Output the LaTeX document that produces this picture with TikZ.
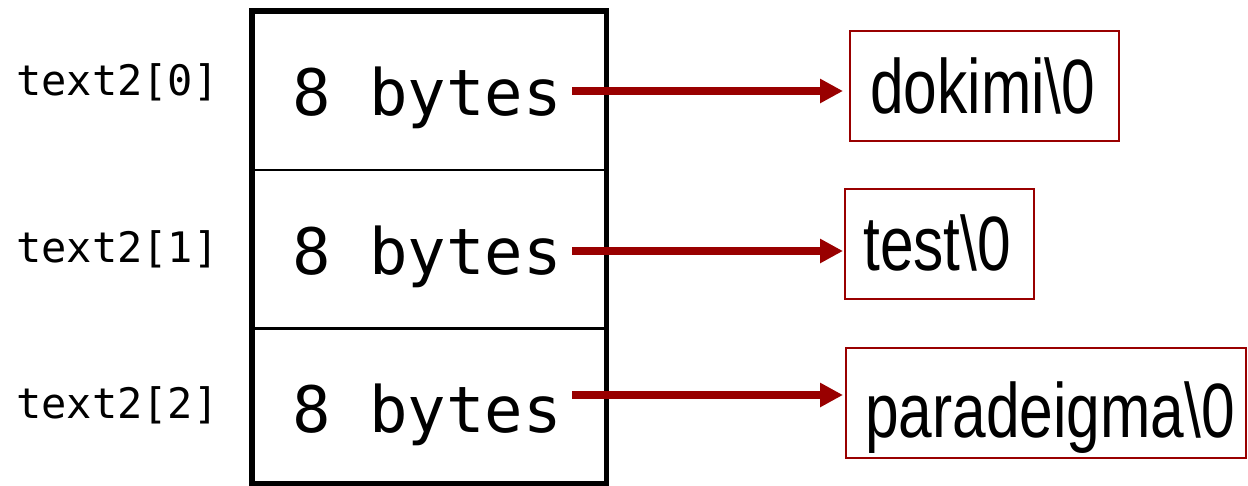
\documentclass[tikz,border=0pt]{standalone}
\usepackage{fontspec}
\setmonofont{DejaVu Sans Mono}
\newfontfamily\narrowsans[FakeStretch=0.785]{Liberation Sans}
\usetikzlibrary{arrows.meta}
\definecolor{darkred}{HTML}{990000}
\tikzset{
  cell/.style={draw=black, line width=2.5pt, minimum width=352pt, inner sep=0pt, anchor=north west},
  idxlabel/.style={inner sep=0pt, anchor=base west, font=\ttfamily\fontsize{42}{46}\selectfont},
  bytestext/.style={inner sep=0pt, anchor=base west, font=\ttfamily\fontsize{64}{70}\selectfont},
  strbox/.style={draw=darkred, line width=2pt, inner sep=0pt, anchor=north west},
  strtext/.style={inner sep=0pt, anchor=base west, font=\narrowsans\fontsize{77}{84}\selectfont},
  ptr/.style={draw=darkred, line width=8pt, -{Triangle[length=23pt,width=23pt]}}
}
\begin{document}
\begin{tikzpicture}[x=1pt,y=-1pt]
\useasboundingbox (0,0) rectangle (1248,485);
% cells
\node[cell, minimum height=157.5pt] (c0) at (252,11) {};
\node[cell, minimum height=158.5pt] (c1) at (252,168.5) {};
\node[cell, minimum height=154pt] (c2) at (252,327) {};
\draw[line width=5.5pt] (c0.north west) rectangle (c2.south east);
% index labels
\node[idxlabel] (l0) at (16,95) {text2[0]};
\node[idxlabel] (l1) at (16,262) {text2[1]};
\node[idxlabel] (l2) at (16,418) {text2[2]};
% cell texts
\node[bytestext] (t0) at (292,115) {8 bytes};
\node[bytestext] (t1) at (292,274) {8 bytes};
\node[bytestext] (t2) at (292,432) {8 bytes};
% string boxes
\node[strbox, minimum width=269pt, minimum height=110pt] (b0) at (849,30) {};
\node[strbox, minimum width=189pt, minimum height=110pt] (b1) at (844,188) {};
\node[strbox, minimum width=400pt, minimum height=110pt] (b2) at (845,347) {};
\node[strtext] (s0) at (870,113) {dokimi\textbackslash0};
\node[strtext] (s1) at (863,270) {test\textbackslash0};
\node[strtext] (s2) at (865,437) {paradeigma\textbackslash0};
% pointers
\coordinate (a0) at (572,91);
\coordinate (a1) at (572,251);
\coordinate (a2) at (572,395);
\draw[ptr, shorten >=6pt] (a0) -- (a0 -| b0.west);
\draw[ptr, shorten >=1pt] (a1) -- (a1 -| b1.west);
\draw[ptr, shorten >=2pt] (a2) -- (a2 -| b2.west);
\end{tikzpicture}
\end{document}
